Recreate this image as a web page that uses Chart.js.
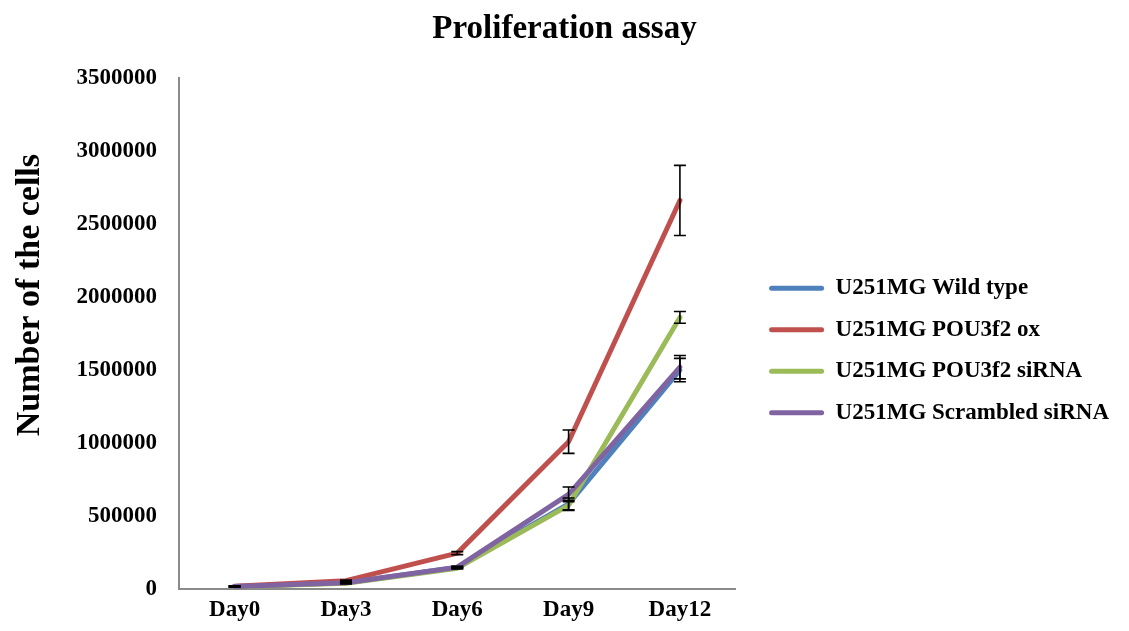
<!DOCTYPE html>
<html>
<head>
<meta charset="utf-8">
<title>Proliferation assay</title>
<script src="https://cdn.jsdelivr.net/npm/chart.js@4"></script>
<style>
  html, body { margin: 0; padding: 0; background: #fff; }
  #wrap { width: 1129px; height: 631px; }
</style>
</head>
<body>
<div id="wrap"><canvas id="c" width="1129" height="631"></canvas></div>
<script>
// Time points
const days = ['Day0', 'Day3', 'Day6', 'Day9', 'Day12'];

// Mean cell counts per line
const wildType     = [20000, 45000, 150000, 585000, 1500000];
const pou3f2Ox     = [22000, 60000, 248000, 1010000, 2660000];
const pou3f2SiRNA  = [18000, 42000, 145000, 575000, 1860000];
const scrambledSi  = [20000, 46000, 152000, 650000, 1520000];

// Standard deviations (error bars)
const wildTypeErr    = [3000, 4000, 6000, 40000, 80000];
const pou3f2OxErr    = [3000, 4000, 10000, 80000, 240000];
const pou3f2SiRNAErr = [3000, 4000, 6000, 35000, 40000];
const scrambledSiErr = [3000, 4000, 6000, 50000, 80000];

// Y axis tick values
const yTicks = [0, 500000, 1000000, 1500000, 2000000, 2500000, 3000000, 3500000];

const serif = "'Liberation Serif', 'Times New Roman', serif";

// Draws mean ± SD whiskers with caps on every point
const errorBars = {
  id: 'errorBars',
  afterDatasetsDraw(chart) {
    const ctx = chart.ctx;
    const ys = chart.scales.y;
    ctx.save();
    ctx.strokeStyle = '#000';
    ctx.lineWidth = 1.6;
    chart.data.datasets.forEach((ds, di) => {
      const meta = chart.getDatasetMeta(di);
      if (!meta.visible || !ds.errors) return;
      meta.data.forEach((pt, i) => {
        const v = ds.data[i], e = ds.errors[i];
        const top = ys.getPixelForValue(v + e);
        const bot = ys.getPixelForValue(v - e);
        const x = pt.x, cap = 6;
        ctx.beginPath();
        ctx.moveTo(x, top); ctx.lineTo(x, bot);
        ctx.moveTo(x - cap, top); ctx.lineTo(x + cap, top);
        ctx.moveTo(x - cap, bot); ctx.lineTo(x + cap, bot);
        ctx.stroke();
      });
    });
    ctx.restore();
  }
};

// Vertical axis caption, set a little above the middle of the axis
const yCaption = {
  id: 'yCaption',
  afterDraw(chart) {
    const a = chart.chartArea;
    const ctx = chart.ctx;
    ctx.save();
    ctx.translate(a.left - 149, a.top + (a.bottom - a.top) * 0.425);
    ctx.rotate(-Math.PI / 2);
    ctx.font = 'bold 34px ' + serif;
    ctx.fillStyle = '#000';
    ctx.textAlign = 'center';
    ctx.textBaseline = 'middle';
    ctx.fillText('Number of the cells', 0, 0);
    ctx.restore();
  }
};

// Legend column: natural width, a gap from the plot, and a small downward shift
const legendGap = {
  id: 'legendGap',
  afterInit(chart) {
    const lg = chart.legend;
    if (!lg) return;
    const gap = 15, extra = 10, shift = 35;
    const fit = lg.fit;
    lg.fit = function () {
      this.maxWidth = 2000;
      fit.call(this);
      this.width += gap + extra;
    };
    const draw = lg.draw;
    lg.draw = function () {
      this.left += gap;
      this.top += shift;
      this.bottom += shift;
      draw.call(this);
      this.left -= gap;
      this.top -= shift;
      this.bottom -= shift;
    };
  }
};

function series(label, data, errors, color, order) {
  return {
    label, data, errors, order,
    borderColor: color,
    backgroundColor: color,
    borderWidth: 5,
    pointRadius: 0,
    pointHoverRadius: 0,
    tension: 0,
    fill: false,
    borderCapStyle: 'round',
    borderJoinStyle: 'round'
  };
}

new Chart(document.getElementById('c'), {
  type: 'line',
  data: {
    labels: days,
    datasets: [
      series('U251MG Wild type', wildType, wildTypeErr, '#4F81BD', 3),
      series('U251MG POU3f2 ox', pou3f2Ox, pou3f2OxErr, '#C0504D', 1),
      series('U251MG POU3f2 siRNA', pou3f2SiRNA, pou3f2SiRNAErr, '#9BBB59', 2),
      series('U251MG Scrambled siRNA', scrambledSi, scrambledSiErr, '#8064A2', 0)
    ]
  },
  options: {
    responsive: false,
    animation: false,
    devicePixelRatio: 1,
    layout: { padding: { left: 0, right: 0, top: 0, bottom: 0 } },
    plugins: {
      title: {
        display: true,
        text: 'Proliferation assay',
        color: '#000',
        font: { family: serif, size: 33, weight: 'bold' },
        padding: { top: 10, bottom: 28 }
      },
      legend: {
        display: true,
        position: 'right',
        align: 'center',
        labels: {
          color: '#000',
          font: { family: serif, size: 23, weight: 'bold' },
          boxWidth: 55,
          boxHeight: 5,
          padding: 18.5,
          useBorderRadius: true,
          borderRadius: 2.5,
          generateLabels(chart) {
            return Chart.defaults.plugins.legend.labels.generateLabels(chart)
              .sort((a, b) => a.datasetIndex - b.datasetIndex)
              .map(l => Object.assign(l, { lineWidth: 0 }));
          }
        }
      },
      tooltip: { enabled: false }
    },
    scales: {
      x: {
        offset: true,
        grid: { display: false, drawTicks: false },
        border: { display: true, color: '#8a8a8a', width: 2 },
        ticks: {
          color: '#000',
          padding: 7,
          font: { family: serif, size: 23, weight: 'bold' }
        }
      },
      y: {
        min: 0,
        max: 3500000,
        afterBuildTicks(scale) { scale.ticks = yTicks.map(v => ({ value: v })); },
        afterFit(scale) { scale.width = 179; },
        grid: { display: false, drawTicks: false },
        border: { display: true, color: '#8a8a8a', width: 2 },
        ticks: {
          color: '#000',
          padding: 22,
          font: { family: serif, size: 23, weight: 'bold' },
          callback: v => String(v)
        }
      }
    }
  },
  plugins: [errorBars, yCaption, legendGap]
});
</script>
</body>
</html>
